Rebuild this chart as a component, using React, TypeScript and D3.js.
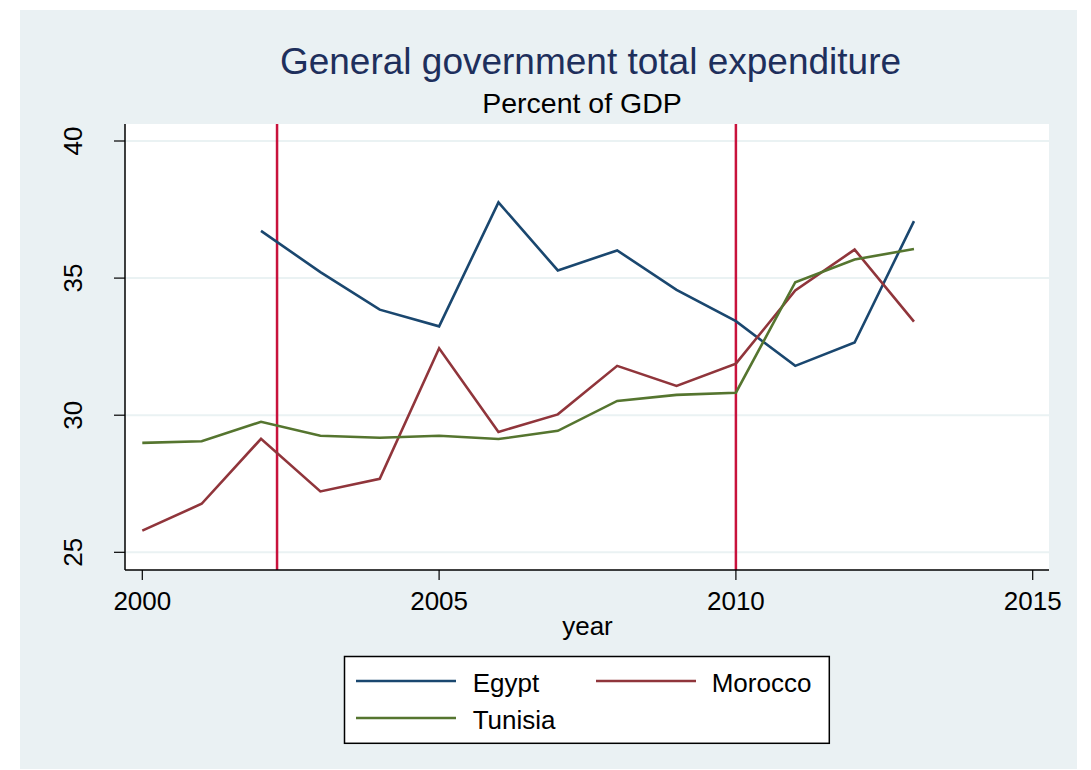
import React from "react";
import * as d3 from "d3";

const years = [2000, 2001, 2002, 2003, 2004, 2005, 2006, 2007, 2008, 2009, 2010, 2011, 2012, 2013];
const egypt: (number | null)[] = [null, null, 36.72, 35.22, 33.85, 33.24, 37.76, 35.28, 36.01, 34.57, 33.43, 31.8, 32.65, 37.08];
const morocco: (number | null)[] = [25.79, 26.77, 29.14, 27.22, 27.68, 32.44, 29.39, 30.03, 31.8, 31.07, 31.88, 34.55, 36.04, 33.41];
const tunisia: (number | null)[] = [28.99, 29.05, 29.76, 29.25, 29.18, 29.25, 29.13, 29.43, 30.52, 30.74, 30.82, 34.85, 35.68, 36.06];
const xTicks = [2000, 2005, 2010, 2015];
const yTicks = [25, 30, 35, 40];
const eventYears = [2002.27, 2010];

const seriesNames = ["Egypt", "Morocco", "Tunisia"];
const seriesColors = ["#1a476f", "#90353b", "#55752f"];
const seriesValues = [egypt, morocco, tunisia];

const FONT = "'Liberation Sans', Arial, Helvetica, sans-serif";

export default function App() {
  const plotL = 125, plotR = 1049, plotT = 124, plotB = 570;
  const x = d3.scaleLinear().domain([2000, 2015]).range([142.3, 1032.7]);
  const y = d3.scaleLinear().domain([25, 40]).range([552.3, 141]);
  const line = d3
    .line<[number, number | null]>()
    .defined((d) => d[1] != null)
    .x((d) => x(d[0]))
    .y((d) => y(d[1] as number));

  const legendItems = [
    { name: seriesNames[0], color: seriesColors[0], lx: 356, ly: 681, tx: 472.7, ty: 691.5 },
    { name: seriesNames[1], color: seriesColors[1], lx: 596, ly: 681, tx: 711.7, ty: 691.5 },
    { name: seriesNames[2], color: seriesColors[2], lx: 356, ly: 718, tx: 472.7, ty: 728.5 },
  ];

  return (
    <svg
      width={1091}
      height={770}
      style={{ position: "absolute", left: 0, top: 0, fontFamily: FONT }}
    >
      <rect x={0} y={0} width={1091} height={770} fill="#ffffff" />
      <rect x={20} y={10} width={1057} height={759} fill="#eaf1f3" />
      <rect x={plotL} y={plotT} width={plotR - plotL} height={plotB - plotT} fill="#ffffff" />

      {/* gridlines */}
      {yTicks.map((t) => (
        <line key={"g" + t} x1={plotL} x2={plotR} y1={y(t)} y2={y(t)} stroke="#eaf2f3" strokeWidth={2} />
      ))}

      {/* event lines */}
      {eventYears.map((e) => (
        <line key={"e" + e} x1={x(e)} x2={x(e)} y1={plotT} y2={plotB} stroke="#c8123c" strokeWidth={2.5} />
      ))}

      {/* series */}
      {seriesValues.map((vals, i) => (
        <path
          key={seriesNames[i]}
          d={line(years.map((yr, j) => [yr, vals[j]] as [number, number | null])) || ""}
          fill="none"
          stroke={seriesColors[i]}
          strokeWidth={2.6}
          strokeLinejoin="miter"
        />
      ))}

      {/* axes */}
      <line x1={plotL} x2={plotL} y1={plotT} y2={plotB} stroke="#000" strokeWidth={1.5} />
      <line x1={plotL} x2={plotR} y1={plotB} y2={plotB} stroke="#000" strokeWidth={1.5} />
      {yTicks.map((t) => (
        <g key={"yt" + t}>
          <line x1={plotL - 11} x2={plotL} y1={y(t)} y2={y(t)} stroke="#000" strokeWidth={1.2} />
          <text
            transform={`translate(82,${y(t)}) rotate(-90)`}
            textAnchor="middle"
            fontSize={26}
            fill="#000"
          >
            {t}
          </text>
        </g>
      ))}
      {xTicks.map((t) => (
        <g key={"xt" + t}>
          <line x1={x(t)} x2={x(t)} y1={plotB} y2={plotB + 10} stroke="#000" strokeWidth={1.2} />
          <text x={x(t)} y={610} textAnchor="middle" fontSize={26} fill="#000">
            {t}
          </text>
        </g>
      ))}
      <text x={587.5} y={635} textAnchor="middle" fontSize={26} fill="#000">
        year
      </text>

      {/* titles */}
      <text x={590.5} y={73.5} textAnchor="middle" fontSize={37} fill="#1e2f5c">
        General government total expenditure
      </text>
      <text x={582} y={113} textAnchor="middle" fontSize={28.5} fill="#000">
        Percent of GDP
      </text>

      {/* legend */}
      <rect x={344.5} y={656.5} width={484.8} height={86.8} fill="#ffffff" stroke="#000" strokeWidth={1.5} />
      {legendItems.map((it) => (
        <g key={"l" + it.name}>
          <line x1={it.lx} x2={it.lx + 100} y1={it.ly} y2={it.ly} stroke={it.color} strokeWidth={2.6} />
          <text x={it.tx} y={it.ty} fontSize={26} fill="#000">
            {it.name}
          </text>
        </g>
      ))}
    </svg>
  );
}
